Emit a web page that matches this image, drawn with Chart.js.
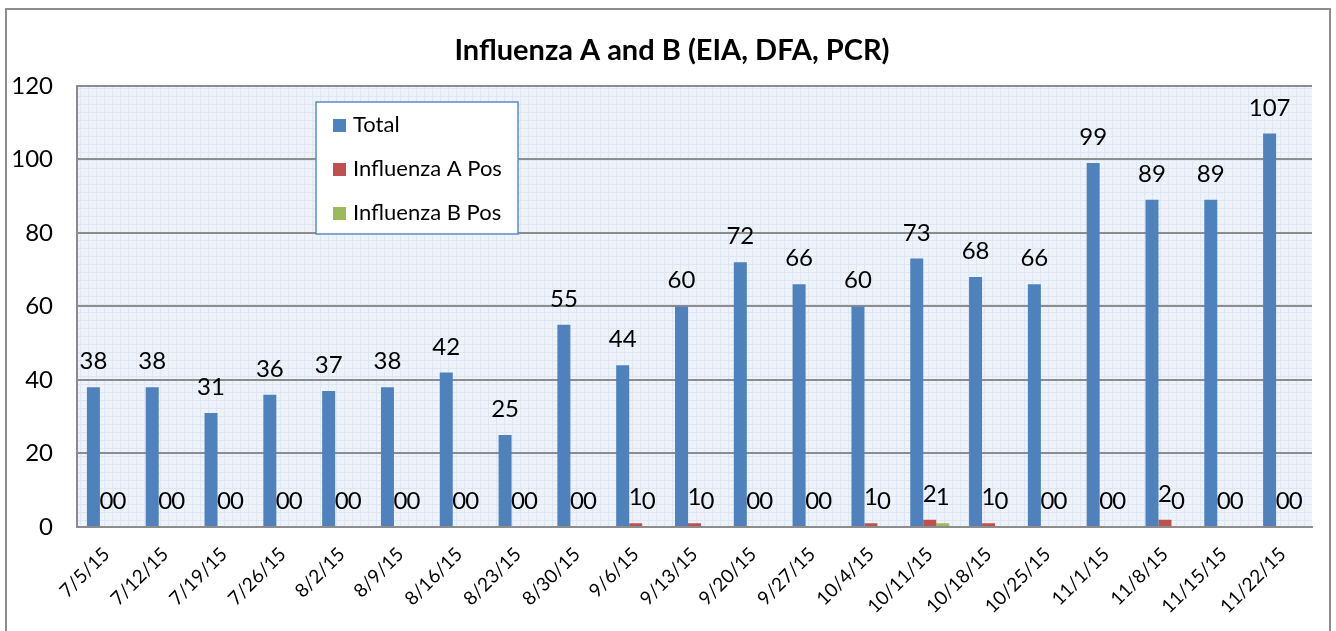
<!DOCTYPE html>
<html>
<head>
<meta charset="utf-8">
<script src="https://cdn.jsdelivr.net/npm/chart.js@4/dist/chart.umd.min.js"></script>
<style>
  html, body { margin: 0; padding: 0; background: #fff; overflow: hidden; }
  #frame { position: absolute; left: 5px; top: 8px; width: 1322px; height: 700px; border: 2px solid #8c8c8c; }
  #wrap { position: absolute; left: 0; top: 0; width: 1336px; height: 631px; }
</style>
</head>
<body>
<div id="frame"></div>
<div id="wrap"><canvas id="flu_chart"></canvas></div>
<script>
var weeks = ['7/5/15','7/12/15','7/19/15','7/26/15','8/2/15','8/9/15','8/16/15','8/23/15','8/30/15','9/6/15','9/13/15',
  '9/20/15','9/27/15','10/4/15','10/11/15','10/18/15','10/25/15','11/1/15','11/8/15','11/15/15','11/22/15'];
var totals = [38,38,31,36,37,38,42,25,55,44,60,72,66,60,73,68,66,99,89,89,107];
var fluA   = [0,0,0,0,0,0,0,0,0,1,1,0,0,1,2,1,0,0,2,0,0];
var fluB   = [0,0,0,0,0,0,0,0,0,0,0,0,0,0,1,0,0,0,0,0,0];
var yTicks = [0,20,40,60,80,100,120];

var FONT = 'Lato, "Open Sans", sans-serif';

// light blue background with a fine grid, like the Excel plot area
function makePattern(ctx) {
  var pc = document.createElement('canvas');
  pc.width = 8; pc.height = 8;
  var p = pc.getContext('2d');
  p.fillStyle = '#eef3fa';
  p.fillRect(0, 0, 8, 8);
  p.fillStyle = '#dde6f2';
  p.fillRect(0, 0, 8, 1);
  p.fillRect(0, 0, 1, 8);
  p.fillStyle = '#e4ebf5';
  p.fillRect(4, 4, 1, 1);
  return ctx.createPattern(pc, 'repeat');
}

var plotBg = {
  id: 'plotBg',
  beforeDraw: function(chart) {
    var a = chart.chartArea, ctx = chart.ctx;
    ctx.save();
    ctx.fillStyle = makePattern(ctx);
    ctx.fillRect(a.left, a.top, a.right - a.left, a.bottom - a.top);
    ctx.restore();
  }
};

var barLabels = {
  id: 'barLabels',
  afterDatasetsDraw: function(chart) {
    var ctx = chart.ctx;
    ctx.save();
    ctx.font = '24px ' + FONT;
    ctx.fillStyle = '#000';
    ctx.textAlign = 'center';
    ctx.textBaseline = 'alphabetic';
    chart.data.datasets.forEach(function(ds, i) {
      chart.getDatasetMeta(i).data.forEach(function(bar, j) {
        ctx.fillText(String(ds.data[j]), bar.x, bar.y - 18);
      });
    });
    ctx.restore();
  }
};

var boxLegend = {
  id: 'boxLegend',
  afterDraw: function(chart) {
    var ctx = chart.ctx;
    ctx.save();
    ctx.fillStyle = '#fff';
    ctx.fillRect(316, 102, 202, 132);
    ctx.strokeStyle = '#5b8ccb';
    ctx.lineWidth = 1.5;
    ctx.strokeRect(316, 102, 202, 132);
    ctx.font = '22px ' + FONT;
    ctx.textBaseline = 'middle';
    chart.data.datasets.forEach(function(ds, i) {
      var y = 125 + i * 44;
      ctx.fillStyle = ds.backgroundColor;
      ctx.fillRect(333, y - 6, 13, 13);
      ctx.fillStyle = '#000';
      ctx.fillText(ds.label, 353, y);
    });
    ctx.restore();
  }
};

var ctx = document.getElementById('flu_chart').getContext('2d');
var chart = new Chart(ctx, {
  type: 'bar',
  data: {
    labels: weeks,
    datasets: [
      { label: 'Total', data: totals, backgroundColor: '#4f81bd', yAxisID: 'y' },
      { label: 'Influenza A Pos', data: fluA, backgroundColor: '#c0504d', yAxisID: 'y' },
      { label: 'Influenza B Pos', data: fluB, backgroundColor: '#9bbb59', yAxisID: 'y' }
    ]
  },
  options: {
    responsive: true,
    maintainAspectRatio: false,
    animation: false,
    layout: { padding: { left: 10, right: 2, top: 0, bottom: 0 } },
    datasets: { bar: { categoryPercentage: 0.663, barPercentage: 1 } },
    plugins: {
      legend: { display: false },
      tooltip: { enabled: false },
      title: {
        display: true,
        text: 'Influenza A and B (EIA, DFA, PCR)',
        color: '#000',
        font: { family: FONT, size: 29, weight: 'bold' },
        padding: { top: 33, bottom: 18 }
      }
    },
    scales: {
      x: {
        grid: { display: false, drawTicks: false },
        border: { color: '#8c8c8c', width: 2 },
        ticks: {
          color: '#000',
          font: { family: FONT, size: 19 },
          minRotation: 45, maxRotation: 45,
          autoSkip: false,
          padding: 16
        },
        afterFit: function(s) { s.height = 104; }
      },
      y: {
        min: 0, max: 120,
        afterBuildTicks: function(s) { s.ticks = yTicks.map(function(v) { return { value: v }; }); },
        grid: { color: '#8c8c8c', lineWidth: 2, drawTicks: false },
        border: { color: '#8c8c8c', width: 2 },
        ticks: { color: '#000', font: { family: FONT, size: 24 }, padding: 24 },
        afterFit: function(s) { s.width = 67; }
      },
      // empty right axis: only reserves space so the title centres like the original
      yRight: {
        position: 'right',
        min: 0, max: 120,
        grid: { display: false, drawTicks: false },
        border: { display: false },
        ticks: { display: false },
        afterFit: function(s) { s.width = 22; }
      }
    }
  },
  plugins: [plotBg, barLabels, boxLegend]
});
</script>
</body>
</html>
